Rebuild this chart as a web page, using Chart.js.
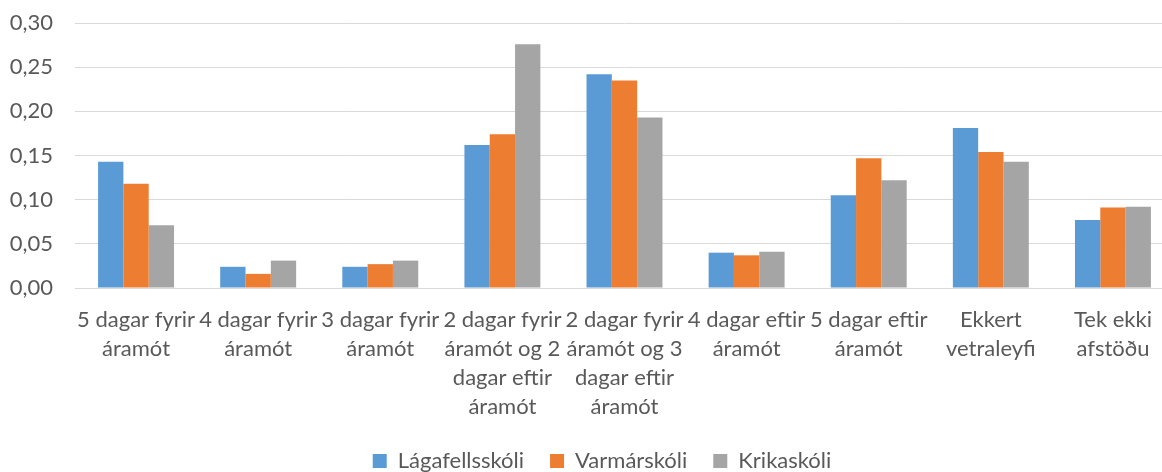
<!DOCTYPE html>
<html>
<head>
<meta charset="utf-8">
<script src="https://cdn.jsdelivr.net/npm/chart.js@4/dist/chart.umd.min.js"></script>
<style>
html,body{margin:0;padding:0;background:#fff;overflow:hidden;width:1162px;height:472px;}
#wrap{width:1176px;height:472px;position:relative;}
</style>
</head>
<body>
<div id="wrap"><canvas id="c"></canvas></div>
<script>
const categories = [
  ["5 dagar fyrir", "áramót"],
  ["4 dagar fyrir", "áramót"],
  ["3 dagar fyrir", "áramót"],
  ["2 dagar fyrir", "áramót og 2", "dagar eftir", "áramót"],
  ["2 dagar fyrir", "áramót og 3", "dagar eftir", "áramót"],
  ["4 dagar eftir", "áramót"],
  ["5 dagar eftir", "áramót"],
  ["Ekkert", "vetraleyfi"],
  ["Tek ekki", "afstöðu"]
];
const seriesNames = ["Lágafellsskóli", "Varmárskóli", "Krikaskóli"];
const lagafell = [0.143, 0.024, 0.024, 0.162, 0.242, 0.040, 0.105, 0.181, 0.077];
const varmar   = [0.118, 0.016, 0.027, 0.174, 0.235, 0.037, 0.147, 0.154, 0.091];
const krika    = [0.071, 0.031, 0.031, 0.276, 0.193, 0.041, 0.122, 0.143, 0.092];
const colors = ["#5B9BD5", "#ED7D31", "#A5A5A5"];

const txt = "#595959";
const fontFam = "Lato, 'Open Sans', sans-serif";

// nudge the legend to where the reference places it, and let the
// x-axis labels spill below their (shortened) box without clipping
const layoutTweak = {
  id: 'layoutTweak',
  afterLayout(chart) {
    const l = chart.legend;
    if (l) {
      const dx = 15, dy = 10;
      l.left += dx; l.right += dx;
      l.top += dy; l.bottom += dy;
    }
    if (chart.scales.x) chart.scales.x.bottom = chart.height;
  }
};

new Chart(document.getElementById('c'), {
  type: 'bar',
  data: {
    labels: categories,
    datasets: [lagafell, varmar, krika].map((d, i) => ({
      label: seriesNames[i],
      data: d,
      backgroundColor: colors[i],
      borderWidth: 0,
      barPercentage: 1,
      categoryPercentage: 0.622
    }))
  },
  options: {
    responsive: true,
    maintainAspectRatio: false,
    animation: false,
    layout: { padding: { left: 0, right: 2, top: 23, bottom: 0 } },
    plugins: {
      tooltip: { enabled: false },
      legend: {
        position: 'bottom',
        labels: {
          color: txt,
          font: { family: fontFam, size: 22 },
          boxWidth: 14,
          boxHeight: 14,
          padding: 26
        }
      }
    },
    scales: {
      x: {
        afterFit: (s) => { s.height = 126; s.paddingLeft = 0; s.paddingRight = 0; },
        grid: { display: false, drawTicks: false },
        border: { display: true, color: '#d9d9d9', width: 1 },
        ticks: {
          color: txt,
          font: { family: fontFam, size: 22, lineHeight: 1.32 },
          maxRotation: 0,
          autoSkip: false,
          padding: 17
        }
      },
      y: {
        min: 0,
        max: 0.30,
        afterFit: (s) => { s.width = 75; s.paddingTop = 0; s.paddingBottom = 0; },
        grid: { color: '#d9d9d9', lineWidth: 1, drawTicks: false },
        border: { display: false },
        ticks: {
          stepSize: 0.05,
          color: txt,
          font: { family: fontFam, size: 22 },
          padding: 22,
          callback: (v) => v.toFixed(2).replace('.', ',')
        }
      }
    }
  },
  plugins: [layoutTweak]
});
</script>
</body>
</html>
